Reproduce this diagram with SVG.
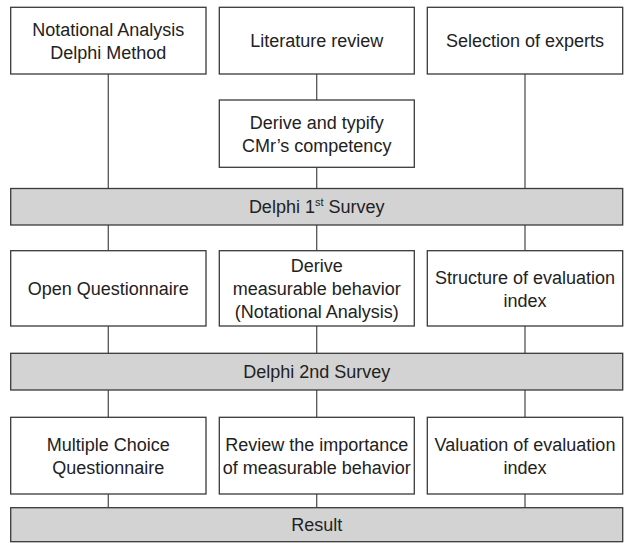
<svg xmlns="http://www.w3.org/2000/svg" width="624" height="543" viewBox="0 0 624 543">
<style>
.box{fill:#ffffff;stroke:#3a3a3a;stroke-width:1.3}
.bar{fill:#d3d3d3;stroke:#3a3a3a;stroke-width:1.3}
.t{font-family:"Liberation Sans",Arial,sans-serif;font-size:18px;fill:#222;text-anchor:middle}
.c{stroke:#555;stroke-width:1.3;fill:none}
</style>
<rect width="624" height="543" fill="#ffffff"/>
<g id="connectors">
<path class="c" d="M108.3,74 V188.5 M316.7,74 V100 M316.7,167.3 V188.5 M525,74 V188.5"/>
<path class="c" d="M108.3,225 V250.7 M316.7,225 V250.7 M525,225 V250.7"/>
<path class="c" d="M108.3,326 V353.3 M316.7,326 V353.3 M525,326 V353.3"/>
<path class="c" d="M108.3,390 V417.3 M316.7,390 V417.3 M525,390 V417.3"/>
<path class="c" d="M108.3,494 V507.7 M316.7,494 V507.7 M525,494 V507.7"/>
</g>
<g id="n-notational">
<rect class="box" x="10.7" y="7.3" width="195.3" height="66.7"/>
<text class="t" x="108.3" y="35.7">Notational Analysis</text>
<text class="t" x="108.3" y="58.7">Delphi Method</text>
</g>
<g id="n-literature">
<rect class="box" x="219.3" y="7.3" width="195" height="66.7"/>
<text class="t" x="316.7" y="47.2">Literature review</text>
</g>
<g id="n-experts">
<rect class="box" x="427.3" y="7.3" width="195.4" height="66.7"/>
<text class="t" x="525" y="47.2">Selection of experts</text>
</g>
<g id="n-derive">
<rect class="box" x="219.3" y="100" width="195" height="67.3"/>
<text class="t" x="316.7" y="128.6">Derive and typify</text>
<text class="t" x="316.7" y="151.6">CMr’s competency</text>
</g>
<g id="n-survey1">
<rect class="bar" x="10.7" y="188.5" width="612" height="36.5"/>
<text class="t" x="316.7" y="213">Delphi 1<tspan font-size="11" dy="-7">st</tspan><tspan dy="7"> Survey</tspan></text>
</g>
<g id="n-open">
<rect class="box" x="10.7" y="250.7" width="195.3" height="75.3"/>
<text class="t" x="108.3" y="295">Open Questionnaire</text>
</g>
<g id="n-measurable">
<rect class="box" x="219.3" y="250.7" width="195" height="75.3"/>
<text class="t" x="316.7" y="272">Derive</text>
<text class="t" x="316.7" y="295">measurable behavior</text>
<text class="t" x="316.7" y="318">(Notational Analysis)</text>
</g>
<g id="n-structure">
<rect class="box" x="427.3" y="250.7" width="195.4" height="75.3"/>
<text class="t" x="525" y="283.5">Structure of evaluation</text>
<text class="t" x="525" y="306.5">index</text>
</g>
<g id="n-survey2">
<rect class="bar" x="10.7" y="353.3" width="612" height="36.7"/>
<text class="t" x="316.7" y="378">Delphi 2nd Survey</text>
</g>
<g id="n-multiple">
<rect class="box" x="10.7" y="417.3" width="195.3" height="76.7"/>
<text class="t" x="108.3" y="450.5">Multiple Choice</text>
<text class="t" x="108.3" y="473.5">Questionnaire</text>
</g>
<g id="n-review">
<rect class="box" x="219.3" y="417.3" width="195" height="76.7"/>
<text class="t" x="316.7" y="450.5">Review the importance</text>
<text class="t" x="316.7" y="473.5">of measurable behavior</text>
</g>
<g id="n-valuation">
<rect class="box" x="427.3" y="417.3" width="195.4" height="76.7"/>
<text class="t" x="525" y="450.5">Valuation of evaluation</text>
<text class="t" x="525" y="473.5">index</text>
</g>
<g id="n-result">
<rect class="bar" x="10.7" y="507.7" width="612" height="34"/>
<text class="t" x="316.7" y="531">Result</text>
</g>
</svg>
